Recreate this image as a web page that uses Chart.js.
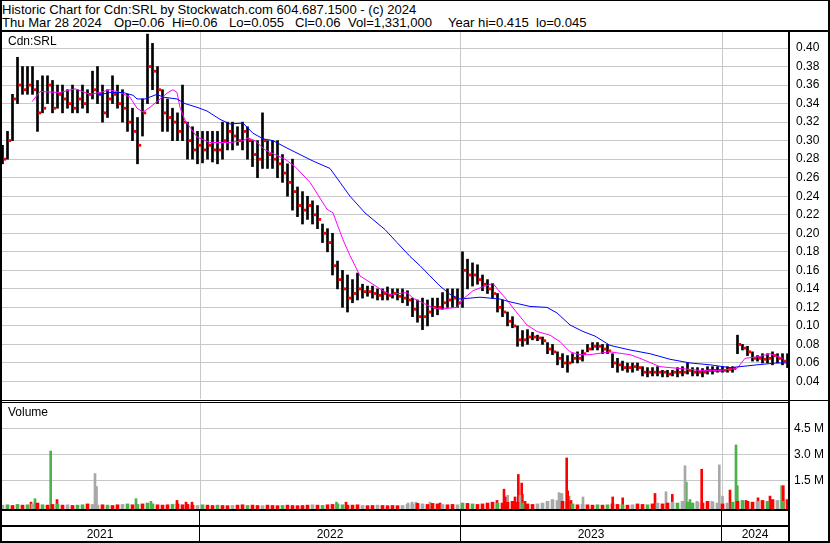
<!DOCTYPE html>
<html>
<head>
<meta charset="utf-8">
<script src="https://cdn.jsdelivr.net/npm/chart.js@4.4.1/dist/chart.umd.min.js"></script>
<style>
  body { margin: 0; background: #fff; }
  #wrap { position: relative; width: 830px; height: 543px; overflow: hidden; background: #fff;
          font-family: "Liberation Sans", Arial, sans-serif; font-size: 12px; color: #000; }
  .ln { position: absolute; background: #000; }
  .txt { position: absolute; white-space: pre; line-height: 13px; }
  .hd { position: absolute; white-space: pre; line-height: 13px; font-size: 13.1px; }
  .yr { position: absolute; top: 528px; height: 13px; line-height: 13px; text-align: center; }
  canvas { position: absolute; left: 0; }
</style>
</head>
<body>
<div id="wrap">
  <div class="hd" style="left:2px;top:3px">Historic Chart for Cdn:SRL by Stockwatch.com 604.687.1500 - (c) 2024</div>
  <div class="hd" style="left:2px;top:16px">Thu Mar 28 2024</div>
  <div class="hd" style="left:114px;top:16px">Op=0.06</div>
  <div class="hd" style="left:172px;top:16px">Hi=0.06</div>
  <div class="hd" style="left:229px;top:16px">Lo=0.055</div>
  <div class="hd" style="left:295px;top:16px">Cl=0.06</div>
  <div class="hd" style="left:348px;top:16px">Vol=1,331,000</div>
  <div class="hd" style="left:448px;top:16px">Year hi=0.415</div>
  <div class="hd" style="left:536px;top:16px">lo=0.045</div>

  <canvas id="price" width="830" height="367" style="top:32px"></canvas>
  <canvas id="volume" width="830" height="106" style="top:403px"></canvas>

  <div class="txt" style="left:8px;top:35px">Cdn:SRL</div>
  <div class="txt" style="left:8px;top:406px">Volume</div>

  <!-- frame -->
  <div class="ln" style="left:0;top:0;width:830px;height:1px"></div>
  <div class="ln" style="left:0;top:0;width:2px;height:543px"></div>
  <div class="ln" style="left:828px;top:0;width:2px;height:543px"></div>
  <div class="ln" style="left:0;top:541px;width:830px;height:2px"></div>
  <div class="ln" style="left:0;top:30px;width:830px;height:2px"></div>
  <div class="ln" style="left:0;top:400px;width:830px;height:1px"></div>
  <div class="ln" style="left:0;top:402px;width:790px;height:1px"></div>
  <div class="ln" style="left:788px;top:32px;width:2px;height:510px"></div>
  <div class="ln" style="left:0;top:509px;width:790px;height:2px"></div>
  <div class="ln" style="left:0;top:525px;width:790px;height:2px"></div>
  <div class="ln" style="left:199px;top:511px;width:1px;height:30px"></div>
  <div class="ln" style="left:460px;top:511px;width:1px;height:30px"></div>
  <div class="ln" style="left:721px;top:511px;width:1px;height:30px"></div>

  <div class="yr" style="left:0;width:200px">2021</div>
  <div class="yr" style="left:200px;width:260px">2022</div>
  <div class="yr" style="left:461px;width:260px">2023</div>
  <div class="yr" style="left:722px;width:66px">2024</div>
</div>

<script>
// weekly bars, Mar 2021 .. Mar 2024 (index = week)
const weekHigh = [
  0.295,0.31,0.35,0.39,0.38,0.38,0.38,0.365,0.37,0.37,
  0.365,0.36,0.36,0.355,0.36,0.355,0.36,0.355,0.375,0.38,
  0.36,0.355,0.37,0.36,0.355,0.35,0.335,0.325,0.345,0.415,
  0.405,0.38,0.355,0.345,0.335,0.33,0.36,0.32,0.315,0.31,
  0.31,0.31,0.31,0.31,0.32,0.32,0.32,0.315,0.32,0.315,
  0.30,0.30,0.33,0.30,0.30,0.30,0.285,0.275,0.28,0.25,
  0.245,0.24,0.235,0.23,0.21,0.205,0.20,0.17,0.16,0.155,
  0.15,0.157,0.145,0.143,0.143,0.14,0.14,0.142,0.14,0.14,
  0.14,0.138,0.13,0.128,0.13,0.128,0.13,0.13,0.136,0.14,
  0.14,0.14,0.18,0.172,0.168,0.166,0.155,0.15,0.146,0.135,
  0.128,0.115,0.11,0.10,0.095,0.096,0.093,0.09,0.088,0.082,
  0.08,0.072,0.07,0.068,0.07,0.072,0.074,0.08,0.082,0.082,
  0.08,0.08,0.07,0.065,0.062,0.06,0.06,0.06,0.056,0.055,
  0.055,0.056,0.052,0.052,0.052,0.055,0.056,0.06,0.055,0.055,
  0.054,0.056,0.056,0.056,0.056,0.056,0.056,0.09,0.08,0.078,
  0.072,0.068,0.07,0.07,0.072,0.07,0.07,0.07
];
const weekLow = [
  0.275,0.28,0.30,0.34,0.35,0.35,0.35,0.31,0.33,0.34,
  0.33,0.335,0.33,0.335,0.33,0.33,0.335,0.33,0.345,0.34,
  0.32,0.325,0.34,0.335,0.32,0.31,0.30,0.275,0.305,0.34,
  0.355,0.34,0.31,0.31,0.30,0.30,0.30,0.28,0.28,0.275,
  0.276,0.28,0.277,0.275,0.28,0.29,0.29,0.295,0.29,0.28,
  0.272,0.26,0.27,0.27,0.27,0.26,0.255,0.24,0.225,0.218,
  0.21,0.215,0.21,0.205,0.19,0.18,0.155,0.14,0.12,0.115,
  0.125,0.128,0.13,0.132,0.13,0.128,0.128,0.128,0.13,0.128,
  0.125,0.122,0.11,0.104,0.096,0.10,0.11,0.112,0.118,0.12,
  0.12,0.12,0.12,0.14,0.143,0.145,0.138,0.135,0.13,0.115,
  0.11,0.10,0.098,0.078,0.078,0.08,0.085,0.084,0.08,0.07,
  0.069,0.058,0.055,0.05,0.06,0.06,0.062,0.072,0.074,0.074,
  0.07,0.07,0.055,0.05,0.052,0.05,0.05,0.052,0.046,0.045,
  0.046,0.046,0.045,0.045,0.046,0.045,0.046,0.048,0.046,0.046,
  0.045,0.048,0.048,0.05,0.05,0.05,0.05,0.07,0.074,0.068,
  0.062,0.062,0.06,0.06,0.058,0.06,0.058,0.055
];
const weekClose = [
  0.28,0.30,0.345,0.36,0.355,0.36,0.355,0.33,0.335,0.36,
  0.335,0.35,0.345,0.34,0.335,0.345,0.34,0.35,0.355,0.35,
  0.33,0.345,0.35,0.34,0.335,0.32,0.31,0.295,0.33,0.38,
  0.375,0.355,0.33,0.325,0.32,0.31,0.32,0.30,0.29,0.295,
  0.29,0.295,0.29,0.29,0.30,0.31,0.305,0.30,0.31,0.30,
  0.285,0.28,0.30,0.285,0.28,0.275,0.265,0.255,0.245,0.23,
  0.225,0.23,0.22,0.215,0.20,0.19,0.165,0.15,0.14,0.13,
  0.135,0.14,0.137,0.137,0.135,0.133,0.135,0.133,0.135,0.132,
  0.13,0.128,0.118,0.11,0.11,0.115,0.12,0.12,0.125,0.128,
  0.13,0.125,0.16,0.155,0.155,0.15,0.145,0.14,0.135,0.12,
  0.115,0.105,0.10,0.085,0.085,0.088,0.088,0.087,0.084,0.075,
  0.072,0.065,0.06,0.06,0.065,0.065,0.07,0.075,0.078,0.078,
  0.075,0.073,0.06,0.058,0.055,0.055,0.056,0.055,0.05,0.05,
  0.05,0.05,0.05,0.048,0.05,0.05,0.05,0.052,0.05,0.05,
  0.05,0.052,0.052,0.052,0.052,0.053,0.054,0.08,0.076,0.072,
  0.065,0.065,0.064,0.065,0.068,0.065,0.062,0.06
];

// moving averages (x = week position)
const ma20Week = [5.9,7.5,11.5,14.5,17.5,19.5,21.5,23.5,25.5,26.9,28.1,29.5,31.5,33.1,34.1,34.9,35.5,36.5,38.9,41.5,
  45.5,48.1,49.1,50.5,52.5,56.5,58.5,61.5,64.9,66.1,68.1,69.5,70.5,71.5,73.5,75.5,77.5,80.9,82.1,85.5,
  87.5,90.9,92.1,94.1,95.5,98.1,99.1,100.9,102.9,104.9,106.9,109.5,111.5,113.5,115.5,117.5,121.5,125.5,127.5,131.5,
  135.5,139.5,143.5,146.9,148.5,151.5,153.5,156.1];
const ma20Val = [0.342,0.353,0.352,0.356,0.35,0.352,0.355,0.352,0.347,0.335,0.331,0.336,0.345,0.352,0.355,0.352,0.336,0.322,0.304,0.298,
  0.298,0.30,0.303,0.30,0.29,0.28,0.272,0.255,0.226,0.222,0.193,0.176,0.165,0.154,0.147,0.14,0.134,0.136,0.13,0.121,
  0.118,0.12,0.129,0.138,0.141,0.146,0.139,0.128,0.114,0.101,0.094,0.09,0.083,0.072,0.069,0.069,0.072,0.069,0.065,0.056,
  0.054,0.052,0.052,0.054,0.065,0.067,0.07,0.065];
const ma50Week = [18.9,21.5,24.1,26.1,26.9,28.5,30.9,32.1,34.9,36.5,38.9,40.9,43.5,45.5,48.1,50.1,52.1,54.1,56.9,59.5,
  62.1,65.5,67.5,69.5,72.5,76.5,78.9,81.5,83.5,85.5,87.5,89.5,91.5,95.5,99.5,101.5,105.5,108.9,110.9,113.5,
  116.1,118.5,121.5,125.5,129.5,133.5,137.5,141.5,145.5,147.5,150.9,154.9,156.9];
const ma50Val = [0.349,0.352,0.352,0.349,0.345,0.345,0.35,0.347,0.345,0.34,0.336,0.332,0.323,0.318,0.319,0.308,0.302,0.30,0.292,0.285,
  0.278,0.27,0.255,0.24,0.222,0.204,0.19,0.175,0.165,0.154,0.143,0.134,0.129,0.131,0.129,0.126,0.121,0.12,0.114,0.101,
  0.094,0.089,0.079,0.074,0.07,0.064,0.06,0.058,0.055,0.056,0.058,0.06,0.06];

// weekly base volume (millions) and colour: r = down, g = up, k = unchanged
const volBase = [
  0.08,0.1,0.06,0.12,0.08,0.1,0.15,0.2,0.1,0.08,
  0.12,0.15,0.08,0.1,0.06,0.08,0.1,0.15,0.12,0.08,
  0.1,0.08,0.06,0.1,0.12,0.15,0.1,0.12,0.15,0.2,
  0.15,0.1,0.08,0.1,0.12,0.15,0.1,0.12,0.08,0.06,
  0.1,0.08,0.06,0.08,0.06,0.05,0.06,0.08,0.1,0.06,
  0.08,0.06,0.05,0.08,0.06,0.05,0.06,0.08,0.06,0.05,
  0.06,0.08,0.1,0.08,0.06,0.1,0.12,0.15,0.1,0.08,
  0.08,0.1,0.06,0.05,0.06,0.08,0.06,0.05,0.06,0.05,
  0.06,0.12,0.15,0.18,0.15,0.12,0.18,0.15,0.12,0.1,
  0.12,0.1,0.2,0.18,0.15,0.12,0.15,0.2,0.25,0.2,
  0.2,0.25,0.3,0.25,0.2,0.15,0.12,0.15,0.2,0.3,
  0.4,0.35,0.3,0.25,0.15,0.1,0.12,0.1,0.08,0.1,
  0.08,0.1,0.15,0.12,0.1,0.08,0.1,0.15,0.12,0.1,
  0.15,0.2,0.15,0.2,0.25,0.2,0.3,0.25,0.2,0.25,
  0.2,0.3,0.25,0.2,0.15,0.2,0.25,0.3,0.35,0.3,
  0.25,0.3,0.35,0.3,0.4,0.35,0.3,0.4
];
const volBaseColor =
  'kgrgrgkrgr' + 'rgrkrggrkk' + 'rgrrkgrgrg' + 'grrrgrrrrk' +
  'grrgrrkrrg' + 'rrkrrrgrrr' + 'rrkrgrrggr' + 'rrkrrkrrrr' +
  'kkkrkrrrkr' + 'rkgrgrrrrg' + 'rrrrgrrkkk' + 'kkrrgrkrrg' +
  'rgrrgrkrrg' + 'rkrrkgkggk' + 'rrkkrkgrgr' + 'rkrgrkgr';

// single heavy-volume days: [week position, millions]
const spikesRed = [[5.7,0.25],[10.9,0.4],[34.9,0.35],[36.7,0.25],[37.9,0.25],[68.7,0.25],[87.5,0.2],[98.9,0.35],
  [100.3,1.0],[100.7,0.55],[102.5,0.55],[103.16,1.85],[103.84,1.35],[104.5,0.3],[112.84,2.8],[113.04,0.9],[113.7,0.35],
  [122.04,0.55],[124.04,0.5],[130.5,0.75],[133.96,0.7],[139.84,2.15],[145.5,0.95],[148.7,0.35],[151.1,0.5],[153.5,0.6],[156.16,1.2]];
const spikesGreen = [[6.5,0.45],[9.64,3.2],[26.7,0.45],[29.7,0.3],[66.8,0.25],[104.04,0.7],[113.3,0.6],[136.76,1.4],
  [137.5,0.4],[146.7,3.55],[146.96,1.2],[155.84,1.2]];
const spikesGray = [[18.5,1.9],[18.8,1.15],[81.1,0.2],[81.9,0.25],[82.7,0.25],[85.5,0.25],[101.04,0.65],[103.5,0.65],
  [111.3,0.8],[111.6,0.75],[111.9,0.75],[116.1,0.55],[132.7,0.85],[136.5,2.35],[138.9,0.3],[141.9,0.3],[143.36,2.4],[144,0.6]];

const yearStarts = [39.5, 91.5, 143.9];
const priceTicks = [0.04,0.06,0.08,0.10,0.12,0.14,0.16,0.18,0.20,0.22,0.24,0.26,0.28,0.30,0.32,0.34,0.36,0.38,0.40];
const volTicks = [1.5, 3.0, 4.5];

const GRID = '#c8c8c8';
const FONT = { family: '"Liberation Sans", Arial, sans-serif', size: 12 };
const VOLCOL = { r: '#ff0000', g: '#4cb04c', k: '#a8a8a8' };
const VOL_MIN = -0.144;
const CLOSE_SHIFT = 0.45; // close tick sits just right of the range bar

function xScale() {
  return {
    type: 'linear', min: -0.5, max: 157.5, offset: false,
    afterBuildTicks: function (s) { s.ticks = yearStarts.map(function (v) { return { value: v }; }); },
    ticks: { display: false },
    grid: { color: GRID, drawTicks: false, offset: false },
    border: { display: false }
  };
}

function yRight(min, max, ticks, fmt, pad) {
  return {
    position: 'right', min: min, max: max,
    afterBuildTicks: function (s) { s.ticks = ticks.map(function (v) { return { value: v }; }); },
    afterFit: function (s) { s.width = 40; s.paddingTop = 0; s.paddingBottom = 0; },
    ticks: { color: '#000', font: FONT, padding: pad, callback: fmt },
    grid: { color: GRID, drawTicks: false },
    border: { display: false }
  };
}

const common = {
  responsive: false, animation: false, events: [],
  layout: { padding: 0, autoPadding: false },
  plugins: { legend: { display: false }, tooltip: { enabled: false } }
};

const rangeBars = weekHigh.map(function (h, i) { return { x: i, y: [weekLow[i], h] }; });
const closeDots = weekClose.map(function (c, i) { return { x: i + CLOSE_SHIFT, y: c }; });
const ma20 = ma20Week.map(function (w, i) { return { x: w, y: ma20Val[i] }; });
const ma50 = ma50Week.map(function (w, i) { return { x: w, y: ma50Val[i] }; });

new Chart(document.getElementById('price'), {
  type: 'bar',
  data: {
    datasets: [
      { type: 'line', data: ma50, borderColor: '#0000ff', borderWidth: 1, pointRadius: 0, tension: 0, order: 0 },
      { type: 'line', data: ma20, borderColor: '#ff00ff', borderWidth: 1, pointRadius: 0, tension: 0, order: 0 },
      { type: 'line', data: closeDots, showLine: false, pointStyle: 'rect', pointRadius: 2,
        pointBackgroundColor: '#ff0000', pointBorderWidth: 0, order: 1 },
      { type: 'bar', data: rangeBars, backgroundColor: '#000', barThickness: 2, grouped: false, order: 2 }
    ]
  },
  options: Object.assign({}, common, {
    scales: {
      x: xScale(),
      y: yRight(0.0211, 0.4173, priceTicks, function (v) { return v.toFixed(2); }, 6)
    }
  })
});

const baseBars = volBase.map(function (v, i) { return { x: i, y: [VOL_MIN, v] }; });
const baseColors = volBase.map(function (v, i) { return VOLCOL[volBaseColor[i]]; });
function spikeBars(list) { return list.map(function (p) { return { x: p[0], y: [VOL_MIN, p[1]] }; }); }

new Chart(document.getElementById('volume'), {
  type: 'bar',
  data: {
    datasets: [
      { data: baseBars, backgroundColor: baseColors, barThickness: 3, grouped: false },
      { data: spikeBars(spikesGray), backgroundColor: VOLCOL.k, barThickness: 2, grouped: false },
      { data: spikeBars(spikesRed), backgroundColor: VOLCOL.r, barThickness: 2, grouped: false },
      { data: spikeBars(spikesGreen), backgroundColor: VOLCOL.g, barThickness: 2, grouped: false }
    ]
  },
  options: Object.assign({}, common, {
    scales: {
      x: xScale(),
      y: yRight(VOL_MIN, 5.97, volTicks, function (v) { return v.toFixed(1) + ' M'; }, 4)
    }
  })
});
</script>
</body>
</html>
